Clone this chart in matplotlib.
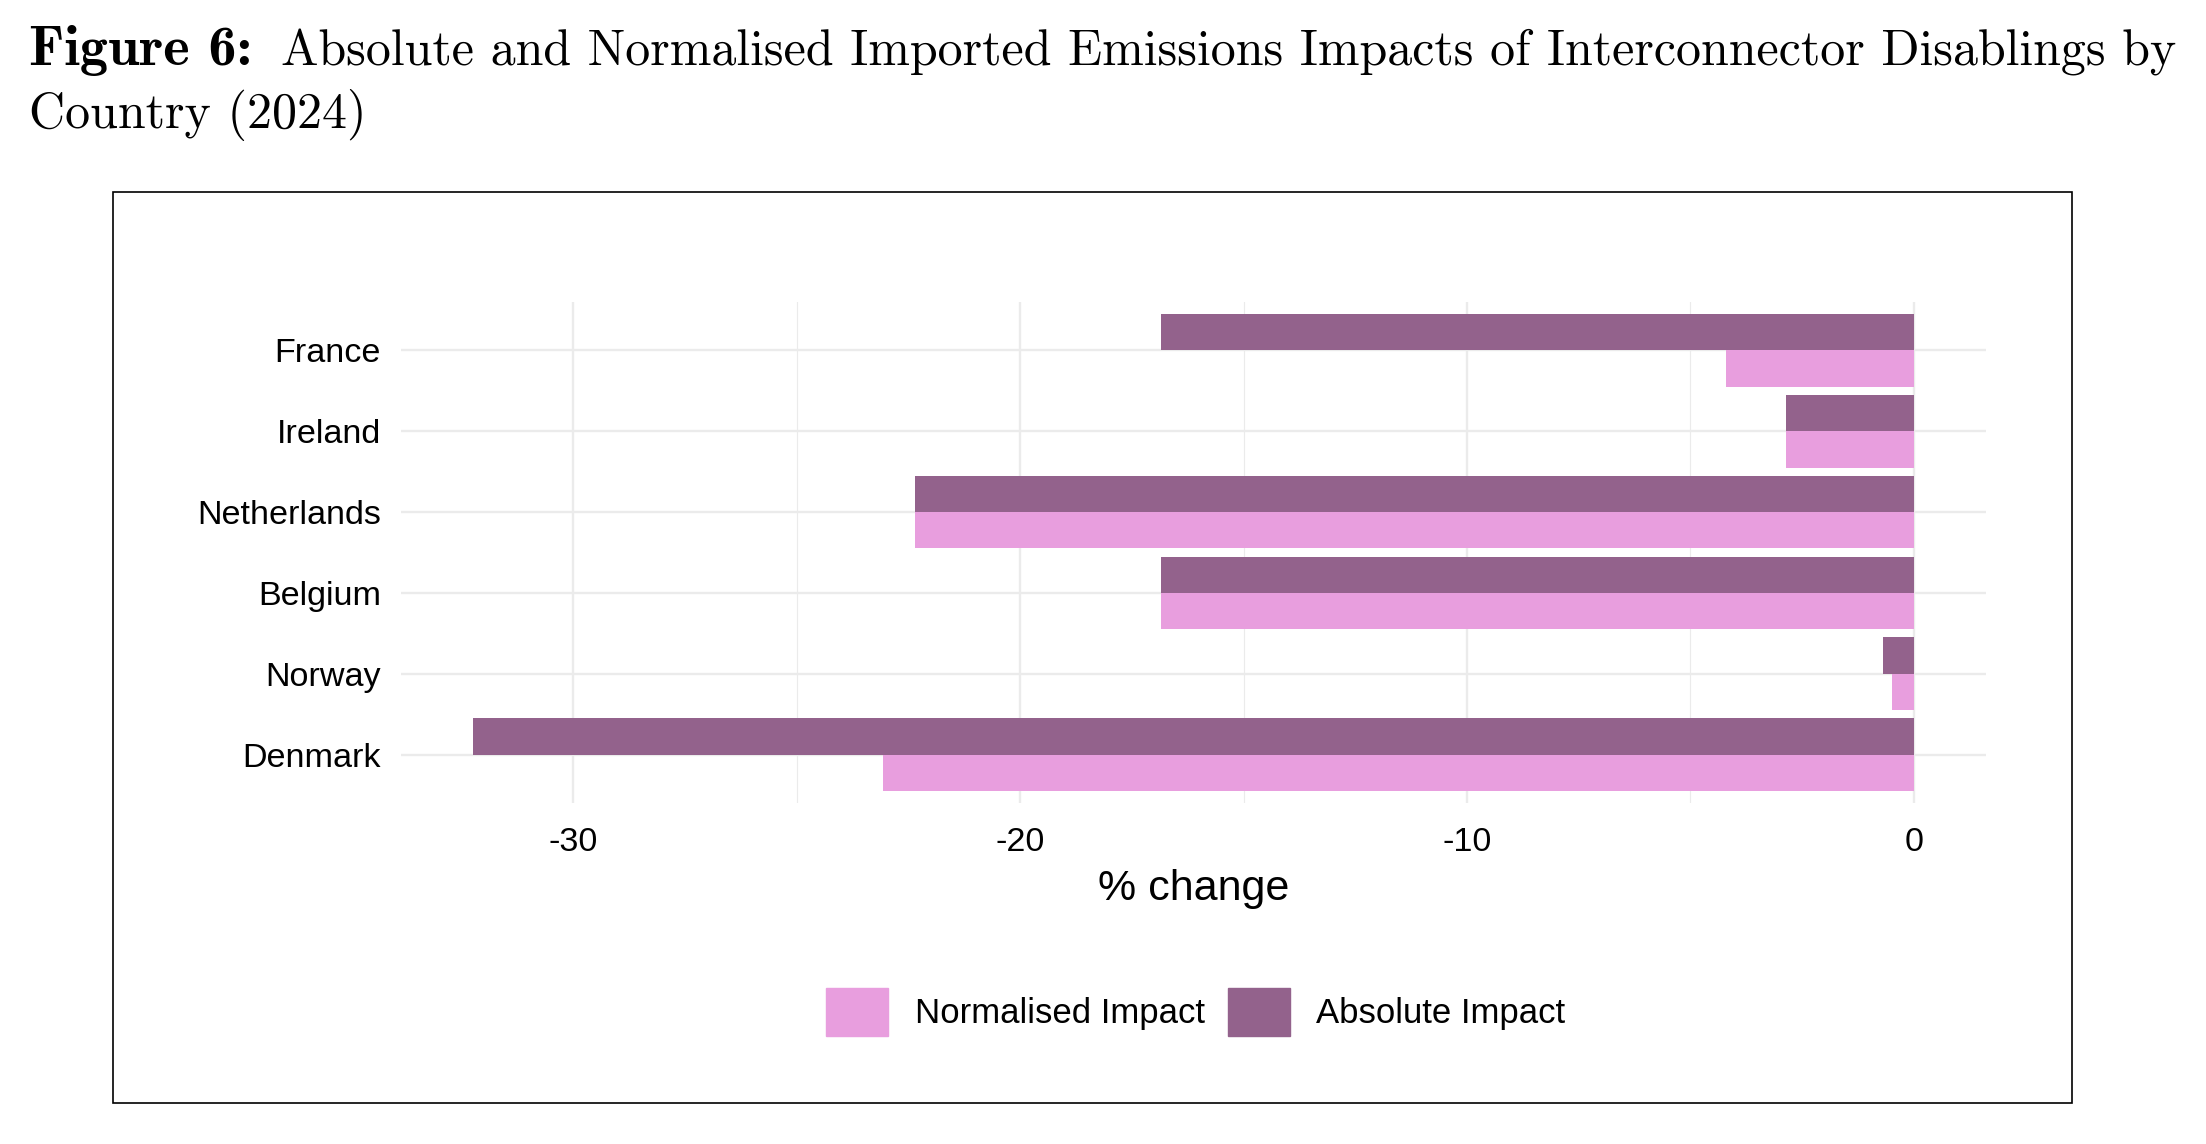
import matplotlib
matplotlib.use("Agg")
import matplotlib.pyplot as plt
import matplotlib.patches as mpatches
import numpy as np

# data
countries = ['France', 'Ireland', 'Netherlands', 'Belgium', 'Norway', 'Denmark']
absolute = [-16.84, -2.86, -22.36, -16.84, -0.69, -32.25]
normalised = [-4.20, -2.86, -22.36, -16.84, -0.49, -23.06]
xticks = [-30, -20, -10, 0]
minor_ticks = [-25, -15, -5]

col_abs = '#93628c'
col_norm = '#e89ede'
grid_col = '#ebebeb'

W, H = 2206, 1144
plt.rcParams['font.family'] = ['Liberation Sans', 'DejaVu Sans']
plt.rcParams['axes.unicode_minus'] = False

fig = plt.figure(figsize=(W / 100, H / 100), dpi=100)

# panel position in pixels
left, right, top, bottom = 400.5, 1986, 302, 803
ax = fig.add_axes([left / W, 1 - bottom / H, (right - left) / W, (bottom - top) / H])

y = np.arange(len(countries))
ax.barh(y - 0.225, absolute, height=0.45, color=col_abs, zorder=3)
ax.barh(y + 0.225, normalised, height=0.45, color=col_norm, zorder=3)

xmin, xmax = min(absolute + normalised), 0
span = xmax - xmin
ax.set_xlim(xmin - 0.05 * span, xmax + 0.05 * span)
ax.set_ylim(len(countries) - 0.4, -0.6)

ax.set_xticks(xticks)
ax.set_xticklabels([str(t) for t in xticks])
ax.set_xticks(minor_ticks, minor=True)
ax.set_yticks(y)
ax.set_yticklabels(countries)

ax.grid(True, which='major', color=grid_col, linewidth=1.7, zorder=0)
ax.grid(True, which='minor', axis='x', color=grid_col, linewidth=0.8, zorder=0)
for s in ax.spines.values():
    s.set_visible(False)
ax.tick_params(axis='both', which='both', length=0, labelsize=24.6, colors='black')
ax.tick_params(axis='x', pad=17)
ax.tick_params(axis='y', pad=14)

ax.set_xlabel('% change', fontsize=31)
ax.xaxis.set_label_coords(0.5, -(889 - bottom) / (bottom - top))
ax.xaxis.label.set_va('center')

handles = [mpatches.Patch(color=col_norm, label='Normalised Impact'),
           mpatches.Patch(color=col_abs, label='Absolute Impact')]
fig.legend(handles=handles, loc='center', bbox_to_anchor=(1196 / W, 1 - 1012 / H),
           ncol=2, frameon=False, fontsize=25, handlelength=1.78, handleheight=1.78,
           handletextpad=0.76, columnspacing=0.68, borderpad=0, borderaxespad=0)

# outer frame around the chart
fig.add_artist(mpatches.Rectangle((112.6 / W, 1 - 1103 / H), (2072.4 - 112.6) / W,
                                  (1103 - 191.5) / H, transform=fig.transFigure,
                                  fill=False, edgecolor='black', linewidth=1.2))

# caption
fig.text(28.7 / W, 1 - 65 / H, 'Figure 6:', family='cmb10', fontsize=40.5, va='baseline')
fig.text(281 / W, 1 - 65 / H,
         'Absolute and Normalised Imported Emissions Impacts of Interconnector Disablings by',
         family='cmr10', fontsize=36, va='baseline')
fig.text(28.7 / W, 1 - 128 / H, 'Country (2024)', family='cmr10', fontsize=36, va='baseline')

fig.savefig('out.png', dpi=100)
